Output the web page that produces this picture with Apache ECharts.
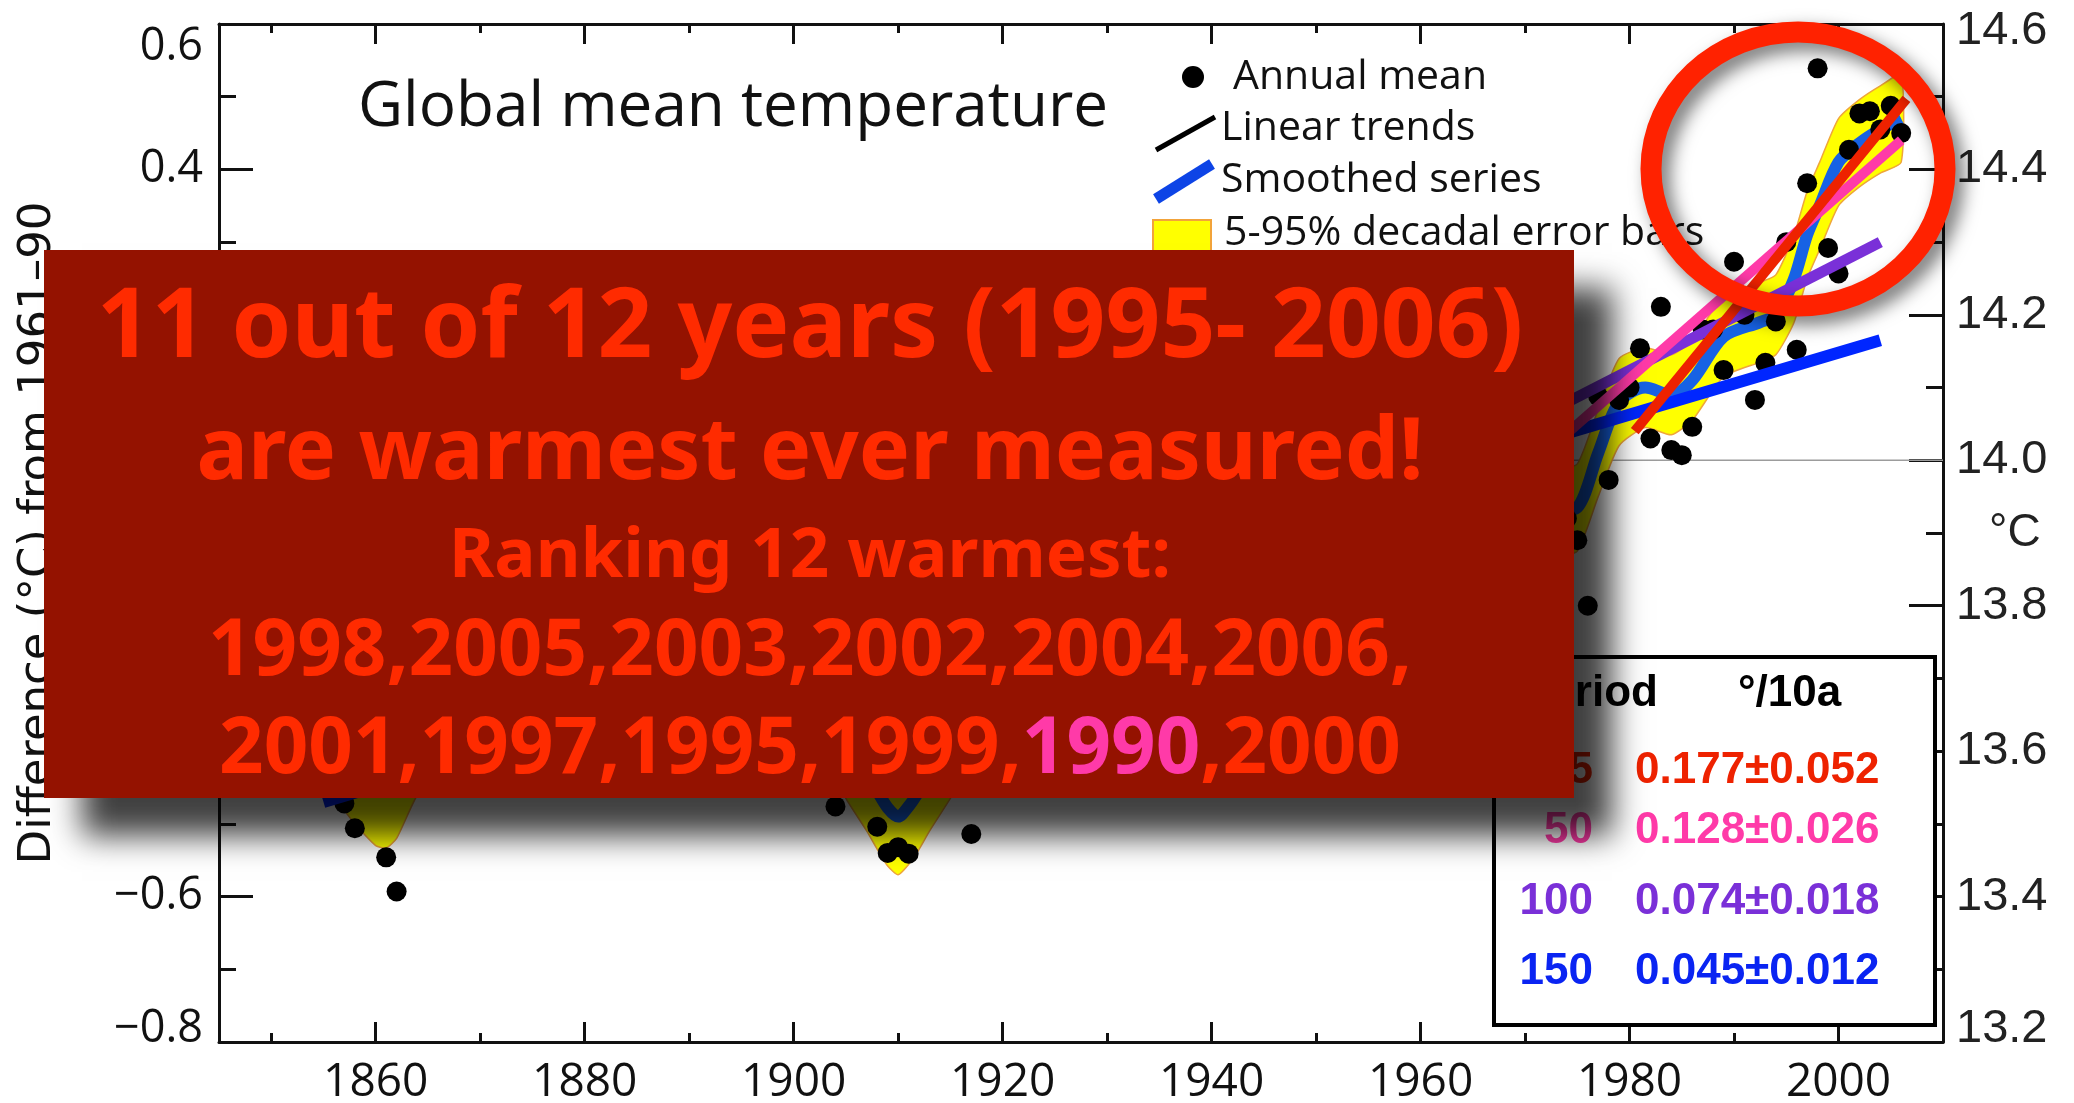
<!DOCTYPE html>
<html>
<head>
<meta charset="utf-8">
<title>Global mean temperature</title>
<script src="https://cdn.jsdelivr.net/npm/echarts@6/dist/echarts.min.js"></script>
<style>
  html, body { margin: 0; padding: 0; background: #ffffff; }
  #chart { width: 2074px; height: 1103px; }
</style>
</head>
<body>
<div id="chart"></div>
<script>
// Annual global mean temperature anomalies (°C from 1961–90), one value per year from firstYear
const firstYear = 1850;
const annualMean = [
  // 1850s
  -0.44, -0.30, -0.29, -0.32, -0.30, -0.32, -0.38, -0.472, -0.506, -0.36,
  // 1860s
  -0.42, -0.546, -0.593, -0.36, -0.44, -0.33, -0.29, -0.32, -0.30, -0.31,
  // 1870s
  -0.30, -0.33, -0.26, -0.30, -0.35, -0.37, -0.36, -0.08, -0.03, -0.27,
  // 1880s
  -0.28, -0.21, -0.26, -0.30, -0.40, -0.37, -0.32, -0.39, -0.27, -0.17,
  // 1890s
  -0.40, -0.33, -0.41, -0.42, -0.37, -0.33, -0.16, -0.15, -0.35, -0.23,
  // 1900s
  -0.15, -0.22, -0.32, -0.39, -0.476, -0.30, -0.24, -0.41, -0.504, -0.540,
  // 1910s
  -0.532, -0.541, -0.40, -0.39, -0.20, -0.15, -0.35, -0.514, -0.36, -0.28,
  // 1920s
  -0.27, -0.19, -0.28, -0.26, -0.28, -0.22, -0.11, -0.20, -0.21, -0.36,
  // 1930s
  -0.14, -0.09, -0.16, -0.29, -0.14, -0.18, -0.15, -0.03, -0.01, -0.03,
  // 1940s
  0.01, 0.03, 0.01, 0.01, 0.12, 0.00, -0.08, -0.09, -0.10, -0.10,
  // 1950s
  -0.18, -0.06, 0.01, 0.07, -0.13, -0.14, -0.25, 0.02, 0.06, 0.03,
  // 1960s
  -0.03, 0.05, 0.03, 0.06, -0.20, -0.11, -0.06, -0.04, -0.08, 0.06,
  // 1970s
  0.03, -0.09, 0.01, 0.15, -0.08, -0.11, -0.20, 0.088, -0.027, 0.083,
  // 1980s
  0.10, 0.154, 0.030, 0.211, 0.014, 0.007, 0.046, 0.18, 0.18, 0.124,
  // 1990s
  0.273, 0.20, 0.083, 0.134, 0.191, 0.30, 0.152, 0.381, 0.539, 0.292,
  // 2000s
  0.257, 0.427, 0.477, 0.480, 0.455, 0.4875, 0.450
];

// Decadal smoothed series and its 5–95% half-width
const smoothYears = [
  1850, 1853, 1856, 1858, 1860, 1861, 1862, 1864, 1867, 1870, 1874,
  1878, 1882, 1886, 1890, 1894,
  1898, 1902, 1905, 1907, 1908, 1909, 1910, 1911, 1912, 1913, 1915,
  1918, 1922, 1926,
  1930, 1934, 1938, 1942, 1945,
  1948, 1952, 1956,
  1960, 1964, 1968, 1971, 1973, 1975, 1977, 1979,
  1981.5, 1984, 1986, 1989, 1992.5, 1994,
  1995.7, 1997, 1998.2, 2000, 2002, 2004, 2006
];
const smoothValues = [
  -0.36, -0.35, -0.375, -0.41, -0.44, -0.443, -0.43, -0.37, -0.32, -0.31, -0.29,
  -0.24, -0.27, -0.32, -0.34, -0.31,
  -0.25, -0.30, -0.385, -0.43, -0.455, -0.478, -0.49, -0.476, -0.455, -0.43, -0.385,
  -0.32, -0.26, -0.21,
  -0.17, -0.13, -0.05, 0.01, 0.00,
  -0.06, -0.05, -0.07,
  -0.02, -0.04, -0.03, -0.04, -0.07, -0.065, 0.01, 0.08,
  0.10, 0.09, 0.11, 0.17, 0.19, 0.20,
  0.248, 0.31, 0.35, 0.41, 0.436, 0.455, 0.47
];
const errHalf = [
  0.09, 0.09, 0.09, 0.09, 0.09, 0.09, 0.09, 0.09, 0.09, 0.09, 0.09,
  0.085, 0.085, 0.085, 0.085, 0.085,
  0.08, 0.08, 0.08, 0.08, 0.08, 0.08, 0.08, 0.08, 0.08, 0.08, 0.08,
  0.075, 0.075, 0.075,
  0.07, 0.07, 0.07, 0.07, 0.07,
  0.065, 0.065, 0.065,
  0.06, 0.06, 0.06, 0.06, 0.06, 0.06, 0.06, 0.06,
  0.055, 0.055, 0.055, 0.055, 0.055, 0.055,
  0.06, 0.06, 0.06, 0.06, 0.06, 0.06, 0.06
];

// Linear trends over the last 25, 50, 100 and 150 years: [year, anomaly] end points
const trend25 = [[1980.5, 0.04], [2006.5, 0.497]];
const trend50 = [[1956, -0.19], [2006, 0.44]];
const trend100 = [[1906, -0.42], [2004, 0.30]];
const trend150 = [[1855, -0.47], [2004, 0.165]];

// Trend table rows
const trendPeriods = ['25', '50', '100', '150'];
const trendRates = ['0.177\u00b10.052', '0.128\u00b10.026', '0.074\u00b10.018', '0.045\u00b10.012'];
const trendColors = ['#ee2200', '#ff3aa8', '#7a30d8', '#0a24f2'];

// Axis ticks and labels
const yearLabels = [1860, 1880, 1900, 1920, 1940, 1960, 1980, 2000];
const minorYears = [1850, 1870, 1890, 1910, 1930, 1950, 1970, 1990, 2010];

// Ranking text
const warmestLine1 = '1998,2005,2003,2002,2004,2006,';
const warmestLine2a = '2001,1997,1995,1999,';
const warmestHighlight = '1990';
const warmestLine2b = ',2000';

const annualPoints = annualMean.map((v, i) => [firstYear + i, v]);
const smoothPoints = smoothYears.map((y, i) => [y, smoothValues[i]]);

const chart = echarts.init(document.getElementById('chart'), null, { renderer: 'canvas' });

const AX = '#111111';
const sansLabel = 'Open Sans';
const arial = 'Liberation Sans';

function xAxisDef(position, major) {
  return {
    type: 'value', min: 1845, max: 2010, position: position,
    axisLine: { show: major, onZero: false, lineStyle: { color: AX, width: 3 } },
    axisTick: {
      show: true, inside: true, length: major ? 20 : 9,
      customValues: major ? yearLabels : minorYears,
      lineStyle: { color: AX, width: 3 }
    },
    axisLabel: {
      show: major && position === 'bottom',
      customValues: yearLabels,
      formatter: (v) => String(Math.round(v)),
      fontFamily: sansLabel, fontSize: 46, color: AX, margin: 18
    },
    splitLine: { show: false }
  };
}

function leftLabel(v) {
  const s = v.toFixed(1).replace('-', '\u2212');
  if (Math.abs(v - 0.6) < 1e-6) return '{t|' + s + '}';
  if (Math.abs(v + 0.8) < 1e-6) return '{b|' + s + '}';
  return s;
}
function rightLabel(v) {
  const s = v.toFixed(1);
  if (Math.abs(v - 14.6) < 1e-6) return '{t|' + s + '}';
  if (Math.abs(v - 13.2) < 1e-6) return '{b|' + s + '}';
  return s;
}

const option = {
  animation: false,
  backgroundColor: '#ffffff',
  grid: { left: 219, top: 24, width: 1724, height: 1018, containLabel: false, outerBoundsMode: 'none' },
  xAxis: [
    xAxisDef('bottom', true),
    xAxisDef('bottom', false),
    xAxisDef('top', true),
    xAxisDef('top', false)
  ],
  yAxis: [
    {
      type: 'value', min: -0.8, max: 0.6, interval: 0.2, position: 'left',
      axisLine: { show: true, onZero: false, lineStyle: { color: AX, width: 3 } },
      axisTick: { show: true, inside: true, length: 34, lineStyle: { color: AX, width: 3 } },
      minorTick: { show: true, splitNumber: 2, length: 17, lineStyle: { color: AX, width: 3 } },
      splitLine: { show: false },
      axisLabel: {
        formatter: leftLabel, fontFamily: sansLabel, fontSize: 45, color: AX, margin: 16,
        verticalAlignMaxLabel: 'top', verticalAlignMinLabel: 'bottom',
        rich: {
          t: { fontFamily: sansLabel, fontSize: 45, color: AX, lineHeight: 46 },
          b: { fontFamily: sansLabel, fontSize: 45, color: AX, lineHeight: 26 }
        }
      },
      name: 'Difference (\u00b0C) from 1961\u201390',
      nameLocation: 'middle', nameGap: 158, nameMoveOverlap: false,
      nameTextStyle: { fontFamily: 'DejaVu Sans', fontSize: 45, color: AX }
    },
    {
      type: 'value', min: 13.2, max: 14.6, interval: 0.2, position: 'right',
      axisLine: { show: true, onZero: false, lineStyle: { color: AX, width: 3 } },
      axisTick: { show: true, inside: true, length: 34, lineStyle: { color: AX, width: 3 } },
      minorTick: { show: true, splitNumber: 2, length: 17, lineStyle: { color: AX, width: 3 } },
      splitLine: { show: false },
      axisLabel: {
        formatter: rightLabel, fontFamily: arial, fontSize: 47, color: '#222', margin: 13,
        verticalAlignMaxLabel: 'top', verticalAlignMinLabel: 'bottom',
        rich: {
          t: { fontFamily: arial, fontSize: 47, color: '#222', lineHeight: 14 },
          b: { fontFamily: arial, fontSize: 47, color: '#222', lineHeight: 26 }
        }
      },
      name: '\u00b0C', nameLocation: 'middle', nameRotate: 0, nameGap: 46, nameMoveOverlap: false,
      nameTextStyle: { fontFamily: arial, fontSize: 46, color: '#222', align: 'left', padding: [0, 0, 14, 0] }
    }
  ],
  series: [
    {
      // zero reference line
      type: 'line', xAxisIndex: 0, yAxisIndex: 0, z: 0, silent: true,
      data: [[1845, 0], [2010, 0]], showSymbol: false, symbol: 'none',
      lineStyle: { color: '#9c9c9c', width: 1.5 }
    },
    {
      // 5–95% decadal error band around the smoothed series
      type: 'custom', xAxisIndex: 0, yAxisIndex: 0, z: 1, silent: true,
      data: [smoothPoints[0]],
      renderItem: function (params, api) {
        const upper = [], lower = [];
        for (let i = 0; i < smoothYears.length; i++) {
          upper.push(api.coord([smoothYears[i], smoothValues[i] + errHalf[i]]));
          lower.push(api.coord([smoothYears[i], smoothValues[i] - errHalf[i]]));
        }
        return {
          type: 'polygon',
          shape: { points: upper.concat(lower.reverse()), smooth: 0.2 },
          style: { fill: '#ffff00', stroke: '#efa63a', lineWidth: 1.5 }
        };
      }
    },
    {
      name: 'Smoothed series', type: 'line', xAxisIndex: 0, yAxisIndex: 0, z: 2, silent: true,
      data: smoothPoints, smooth: 0.3, showSymbol: false, symbol: 'none',
      lineStyle: { color: '#1762e4', width: 12 }
    },
    {
      name: 'Annual mean', type: 'scatter', xAxisIndex: 0, yAxisIndex: 0, z: 3, silent: true,
      data: annualPoints, symbol: 'circle', symbolSize: 20,
      itemStyle: { color: '#000000', opacity: 1 }
    },
    {
      name: '150', type: 'line', xAxisIndex: 0, yAxisIndex: 0, z: 4, silent: true,
      data: trend150, showSymbol: false, symbol: 'none',
      lineStyle: { color: '#0026ff', width: 12, cap: 'butt' }
    },
    {
      name: '100', type: 'line', xAxisIndex: 0, yAxisIndex: 0, z: 5, silent: true,
      data: trend100, showSymbol: false, symbol: 'none',
      lineStyle: { color: '#7a30d8', width: 11, cap: 'butt' }
    },
    {
      name: '50', type: 'line', xAxisIndex: 0, yAxisIndex: 0, z: 6, silent: true,
      data: trend50, showSymbol: false, symbol: 'none',
      lineStyle: { color: '#ff3aa8', width: 10, cap: 'butt' }
    },
    {
      name: '25', type: 'line', xAxisIndex: 0, yAxisIndex: 0, z: 7, silent: true,
      data: trend25, showSymbol: false, symbol: 'none',
      lineStyle: { color: '#ee2200', width: 10, cap: 'butt' }
    }
  ]
};

// Title, key, trend table and the overlaid note
const legendFont = 'Open Sans';
const tableFont = 'Liberation Sans';
const noteFont = 'Noto Sans';
const noteColor = '#ff2b00';

function txt(text, x, y, opts) {
  return {
    type: 'text', z: 10, silent: true,
    style: Object.assign({
      text: text, x: x, y: y,
      textAlign: 'left', textVerticalAlign: 'middle',
      align: 'left', verticalAlign: 'middle'
    }, opts)
  };
}

const graphics = [
  txt('Global mean temperature', 358, 108, { fontFamily: legendFont, fontSize: 62, fill: '#111' }),

  // key
  { type: 'circle', z: 10, silent: true, shape: { cx: 1193, cy: 77, r: 11 }, style: { fill: '#000' } },
  txt('Annual mean', 1233, 77, { fontFamily: legendFont, fontSize: 41, fill: '#111' }),
  { type: 'line', z: 10, silent: true, shape: { x1: 1156, y1: 150, x2: 1215, y2: 117 }, style: { stroke: '#000', lineWidth: 5 } },
  txt('Linear trends', 1221, 128, { fontFamily: legendFont, fontSize: 41, fill: '#111' }),
  { type: 'line', z: 10, silent: true, shape: { x1: 1156, y1: 199, x2: 1212, y2: 164 }, style: { stroke: '#0d44e6', lineWidth: 11 } },
  txt('Smoothed series', 1221, 180, { fontFamily: legendFont, fontSize: 41, fill: '#111' }),
  { type: 'rect', z: 10, silent: true, shape: { x: 1153, y: 220, width: 58, height: 34 }, style: { fill: '#ffff00', stroke: '#f2a33a', lineWidth: 2 } },
  txt('5-95% decadal error bars', 1224, 233, { fontFamily: legendFont, fontSize: 41, fill: '#111' }),

  // trend table
  { type: 'rect', z: 20, silent: true, shape: { x: 1494, y: 657, width: 441, height: 368 }, style: { fill: '#ffffff', stroke: '#000', lineWidth: 4 } },
  Object.assign(txt('Period', 1521, 694, { fontFamily: tableFont, fontWeight: 'bold', fontSize: 44, fill: '#000' }), { z: 21 }),
  Object.assign(txt('\u00b0/10a', 1738, 694, { fontFamily: tableFont, fontWeight: 'bold', fontSize: 44, fill: '#000' }), { z: 21 })
];
const rowY = [771, 831, 902, 972];
trendPeriods.forEach((p, i) => {
  graphics.push(Object.assign(txt(p, 1593, rowY[i], {
    fontFamily: tableFont, fontWeight: 'bold', fontSize: 44, fill: trendColors[i],
    textAlign: 'right', align: 'right'
  }), { z: 21 }));
  graphics.push(Object.assign(txt(trendRates[i], 1635, rowY[i], {
    fontFamily: tableFont, fontWeight: 'bold', fontSize: 44, fill: trendColors[i]
  }), { z: 21 }));
});

// highlight ring around the recent years
graphics.push({
  type: 'ellipse', z: 25, silent: true,
  shape: { cx: 1798, cy: 169, rx: 147, ry: 137 },
  style: {
    fill: 'none', stroke: '#ff2200', lineWidth: 21,
    shadowBlur: 18, shadowColor: 'rgba(0,0,0,0.55)', shadowOffsetX: 8, shadowOffsetY: 8
  }
});

// overlaid note box
graphics.push({
  type: 'rect', z: 30, silent: true,
  shape: { x: 44, y: 250, width: 1530, height: 548 },
  style: {
    fill: '#941200',
    shadowBlur: 30, shadowColor: 'rgba(0,0,0,0.75)', shadowOffsetX: 38, shadowOffsetY: 38
  }
});
const noteX = 810;
function note(text, y, size, extra) {
  return Object.assign(txt(text, noteX, y, Object.assign({
    fontFamily: noteFont, fontWeight: 'bold', fontSize: size, fill: noteColor,
    textAlign: 'center', align: 'center'
  }, extra || {})), { z: 31 });
}
graphics.push(note('11 out of 12 years (1995- 2006)', 330, 96));
graphics.push(note('are warmest ever measured!', 454, 86));
graphics.push(note('Ranking 12 warmest:', 557, 69));
graphics.push(note(warmestLine1, 653, 78));
graphics.push(note('{r|' + warmestLine2a + '}{p|' + warmestHighlight + '}{r|' + warmestLine2b + '}', 751, 78, {
  rich: {
    r: { fontFamily: noteFont, fontWeight: 'bold', fontSize: 78, fill: noteColor, color: noteColor },
    p: { fontFamily: noteFont, fontWeight: 'bold', fontSize: 78, fill: '#ff3aa8', color: '#ff3aa8' }
  }
}));

option.graphic = { elements: graphics };
chart.setOption(option);
</script>
</body>
</html>
